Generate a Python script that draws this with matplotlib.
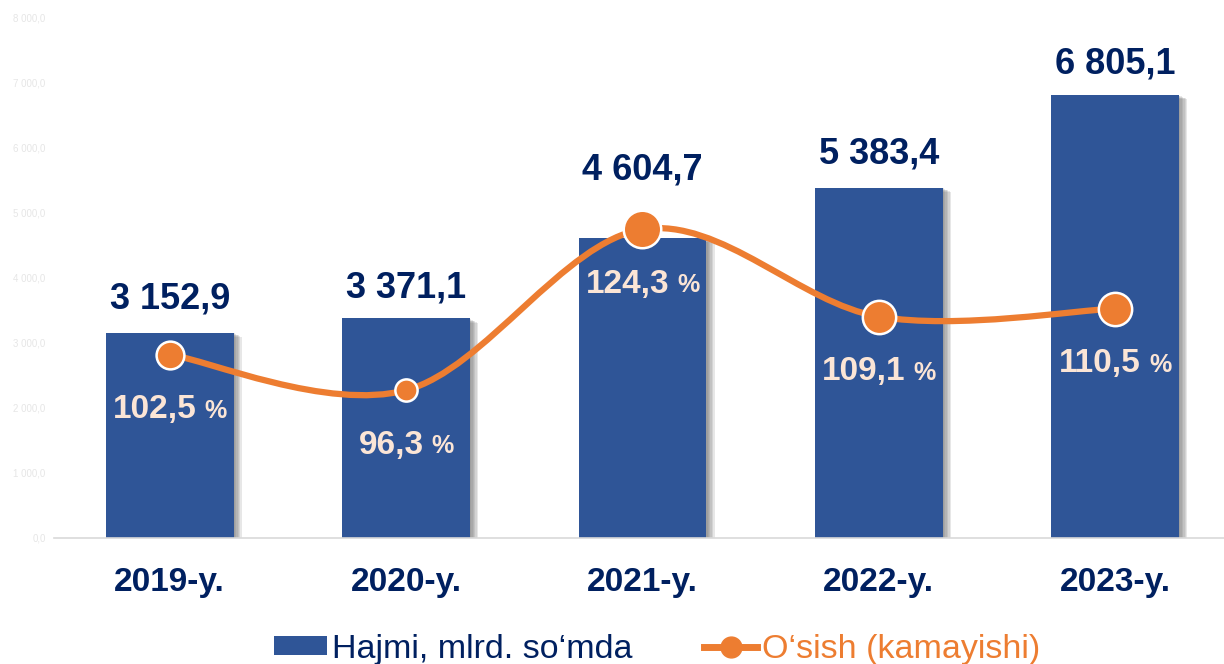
import matplotlib.pyplot as plt
import matplotlib.patheffects as pe
from matplotlib.path import Path
from matplotlib.patches import PathPatch, Patch
from matplotlib.lines import Line2D
from matplotlib.ticker import FuncFormatter, MultipleLocator
import numpy as np

plt.rcParams['font.family'] = ['Liberation Sans', 'DejaVu Sans']

years = ["2019-y.", "2020-y.", "2021-y.", "2022-y.", "2023-y."]
volume = [3152.9, 3371.1, 4604.7, 5383.4, 6805.1]
growth = [102.5, 96.3, 124.3, 109.1, 110.5]

navy = '#002060'
bar_color = '#2F5597'
orange = '#ED7D31'
peach = '#FBE5D6'


def fmt_num(v, dec=1):
    s = f"{v:,.{dec}f}"
    return s.replace(",", " ").replace(".", ",")


fig = plt.figure(figsize=(12.24, 6.64), dpi=100)
ax = fig.add_axes([0.044, 0.19, 0.956, 0.784])
x = np.arange(len(years))

# soft shadow to the right of each bar
shadow = [pe.SimplePatchShadow(offset=(o, -o * 0.5), shadow_rgbFace='#6F6F6F', alpha=0.16)
          for o in (1, 2, 3, 4, 5, 6)] + [pe.Normal()]
bars = ax.bar(x, volume, width=0.54, color=bar_color, zorder=2)
for b in bars:
    b.set_path_effects(shadow)

ax.set_xlim(-0.49, 4.46)
ax.set_ylim(0, 8000)
ax.yaxis.set_major_locator(MultipleLocator(1000))
ax.yaxis.set_major_formatter(FuncFormatter(lambda v, p: fmt_num(v)))
ax.tick_params(axis='y', length=0, labelsize=7, labelcolor='#E6E6E6', pad=6)
ax.set_xticks(x)
ax.set_xticklabels(years, fontsize=24, fontweight='bold', color=navy)
ax.tick_params(axis='x', length=0, pad=21)
for s in ['top', 'right', 'left']:
    ax.spines[s].set_visible(False)
ax.spines['bottom'].set_color('#D9D9D9')
ax.spines['bottom'].set_linewidth(1.2)

# value labels above bars (2021 pushed up to clear the marker)
label_lift = [24, 22, 49, 24, 22]
for xi, v, lift in zip(x, volume, label_lift):
    ax.annotate(fmt_num(v), (xi, v), xytext=(0, lift), textcoords='offset points',
                ha='center', va='center', fontsize=26, fontweight='bold', color=navy, zorder=5)

# growth line on hidden secondary axis
ax2 = ax.twinx()
ax2.set_ylim(70.6, 161.2)
ax2.axis('off')

pts = np.column_stack([x, growth]).astype(float)
ext = np.vstack([pts[0], pts, pts[-1]])
verts = [tuple(pts[0])]
codes = [Path.MOVETO]
for i in range(len(pts) - 1):
    p0, p1, p2, p3 = ext[i], ext[i + 1], ext[i + 2], ext[i + 3]
    c1 = p1 + (p2 - p0) / 6
    c2 = p2 - (p3 - p1) / 6
    verts += [tuple(c1), tuple(c2), tuple(p2)]
    codes += [Path.CURVE4] * 3
curve = PathPatch(Path(verts, codes), facecolor='none', edgecolor=orange, lw=4.5,
                  capstyle='round', zorder=3)
ax2.add_patch(curve)

marker_sizes = [20, 16, 27, 24, 24]
for xi, g, ms in zip(x, growth, marker_sizes):
    ax2.plot(xi, g, 'o', ms=ms, color=orange, mec='white', mew=1.8, zorder=4)

# percent labels: number + smaller "%" centred together under each marker
num_texts, pct_texts = [], []
for xi, g in zip(x, growth):
    t1 = ax2.annotate(fmt_num(g), (xi, g), xytext=(0, -55), textcoords='offset pixels',
                      ha='left', va='center', fontsize=24, fontweight='bold', color=peach, zorder=5)
    t2 = ax2.annotate('%', (xi, g), xytext=(0, -56), textcoords='offset pixels',
                      ha='left', va='center', fontsize=18, fontweight='bold', color=peach, zorder=5)
    num_texts.append(t1)
    pct_texts.append(t2)

fig.canvas.draw()
r = fig.canvas.get_renderer()
gap = 8
for t1, t2 in zip(num_texts, pct_texts):
    w1 = t1.get_window_extent(r).width
    w2 = t2.get_window_extent(r).width
    total = w1 + gap + w2
    t1.set_position((-total / 2, -55))
    t2.set_position((-total / 2 + w1 + gap, -56))

handles = [Patch(facecolor=bar_color, edgecolor='none'),
           Line2D([0], [0], color=orange, lw=5, marker='o', ms=15, mec=orange)]
leg = fig.legend(handles, ["Hajmi, mlrd. so\u2018mda", "O\u2018sish (kamayishi)"],
                 loc='lower center', bbox_to_anchor=(0.537, -0.047), ncol=2, frameon=False,
                 fontsize=24.5, handlelength=1.55, handleheight=0.47, handletextpad=0.15,
                 columnspacing=2.1, labelcolor=[navy, orange])

fig.savefig('out.png', dpi=100)
